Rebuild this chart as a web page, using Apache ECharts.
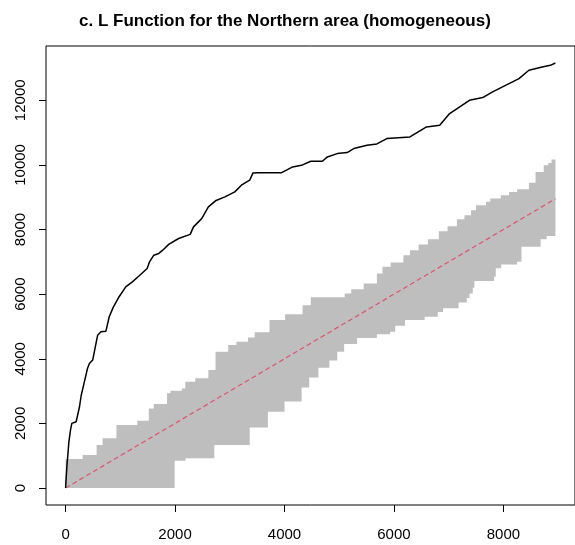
<!DOCTYPE html>
<html>
<head>
<meta charset="utf-8">
<script src="https://cdn.jsdelivr.net/npm/echarts@6/dist/echarts.min.js"></script>
<style>
html,body{margin:0;padding:0;background:#fff;}
#chart{width:575px;height:545px;}
</style>
</head>
<body>
<div id="chart"></div>
<script>
// Observed L function
var obsR = [0,10,25,40,60,90,114,193,254,284,344,400,435,495,543,586,646,737,797,870,978,1099,1220,1340,1491,1534,1612,1703,1775,1884,2065,2277,2337,2428,2487,2609,2750,2911,3092,3212,3364,3424,3514,3949,4149,4330,4480,4692,4783,4964,5145,5266,5507,5688,5870,6292,6594,6836,7017,7379,7621,7802,8103,8284,8466,8708,8858,8949];
var obsL = [0,300,700,1000,1430,1800,2000,2050,2515,2855,3290,3700,3855,3960,4370,4730,4835,4855,5300,5590,5920,6225,6380,6560,6795,7000,7205,7260,7360,7540,7722,7850,8082,8237,8340,8700,8900,9010,9165,9371,9526,9752,9760,9760,9938,10000,10113,10113,10247,10350,10381,10505,10608,10650,10814,10866,11175,11227,11588,12000,12083,12258,12516,12670,12928,13031,13082,13154];

// Upper envelope (step values starting at each r)
var hiR = [0,313,567,676,929,1310,1520,1612,1853,1915,2125,2187,2368,2609,2740,2971,3121,3333,3455,3726,4010,4330,4480,5100,5220,5447,5688,5790,5940,6172,6292,6450,6620,6820,6980,7150,7288,7409,7500,7681,7760,7953,8104,8250,8466,8587,8737,8820,8880,8950];
var hiL = [900,1020,1330,1540,1950,2080,2460,2600,2930,3010,3080,3290,3400,3650,4216,4423,4525,4660,4820,5196,5380,5660,5900,6021,6150,6330,6640,6846,6980,7206,7361,7540,7700,7950,8100,8320,8444,8598,8753,8856,8959,9062,9165,9250,9450,9783,9990,10060,10165,10165];

// Lower envelope (step values starting at each r)
var loR = [0,1993,2192,2717,3364,3696,4000,4312,4451,4620,4820,4964,5090,5326,5688,5929,6022,6202,6560,6800,6897,7180,7330,7380,7440,7470,7830,7860,7960,8250,8330,8680,8790,8950];
var loL = [0,845,920,1330,1870,2360,2675,3108,3418,3720,3950,4216,4454,4640,4760,4834,5020,5196,5300,5450,5560,5740,5880,6020,6200,6410,6540,6800,6920,7000,7470,7700,7800,7800];

// Theoretical L(r) = r
var theoR = [0,8950];
var theoL = [0,8950];

var xTicks = [0,2000,4000,6000,8000];
var yTicks = [0,2000,4000,6000,8000,10000,12000];

function pairs(a,b){ return a.map(function(v,i){ return [v,b[i]]; }); }

// step outline of an envelope, mapped to pixels by the chart's own axes
function stepPath(api, rs, vs){
  var pts = [];
  for (var i = 0; i < rs.length - 1; i++){
    pts.push(api.coord([rs[i], vs[i]]));
    pts.push(api.coord([rs[i+1], vs[i]]));
  }
  pts.push(api.coord([rs[rs.length-1], vs[vs.length-1]]));
  return pts;
}
function renderBand(params, api){
  var upper = stepPath(api, hiR, hiL);
  var lower = stepPath(api, loR, loL).reverse();
  return {type:'polygon', shape:{points:upper.concat(lower)}, style:{fill:'#BEBEBE', stroke:null}, silent:true};
}

var FONT = '"Liberation Sans", Arial, sans-serif';
var plain = function(v){ return String(v); };
var chart = echarts.init(document.getElementById('chart'), null, {renderer:'canvas'});
chart.setOption({
  animation:false,
  backgroundColor:'#fff',
  title:{
    text:'c. L Function for the Northern area (homogeneous)',
    left:74, top:8,
    textStyle:{fontFamily:FONT, fontSize:17, fontWeight:'bold', color:'#000'}
  },
  grid:{left:46, top:46, width:534, height:459, show:true, borderColor:'#000', borderWidth:1, backgroundColor:'transparent', containLabel:false},
  xAxis:{
    type:'value', min:-358, max:9308,
    axisLine:{show:false, onZero:false},
    splitLine:{show:false},
    axisTick:{show:true, length:7, inside:false, lineStyle:{color:'#000', width:1}, customValues:xTicks},
    axisLabel:{show:true, customValues:xTicks, formatter:plain, fontFamily:FONT, fontSize:15, color:'#000', margin:22}
  },
  yAxis:{
    type:'value', min:-526, max:13680,
    axisLine:{show:false, onZero:false},
    splitLine:{show:false},
    axisTick:{show:true, length:7, inside:false, lineStyle:{color:'#000', width:1}, customValues:yTicks},
    axisLabel:{show:true, customValues:yTicks, formatter:plain, rotate:90, fontFamily:FONT, fontSize:15, color:'#000', margin:18}
  },
  series:[
    {type:'custom', name:'band', data:[[hiR[0], hiL[0]]], renderItem:renderBand, z:1, silent:true},
    {type:'line', name:'theo', data:pairs(theoR,theoL), showSymbol:false, symbol:'none',
     lineStyle:{width:1.2, color:'#DF536B', type:[5,3]}, z:3, silent:true},
    {type:'line', name:'obs', data:pairs(obsR,obsL), showSymbol:false, symbol:'none',
     lineStyle:{width:1.5, color:'#000'}, z:4, silent:true}
  ]
});
</script>
</body>
</html>
